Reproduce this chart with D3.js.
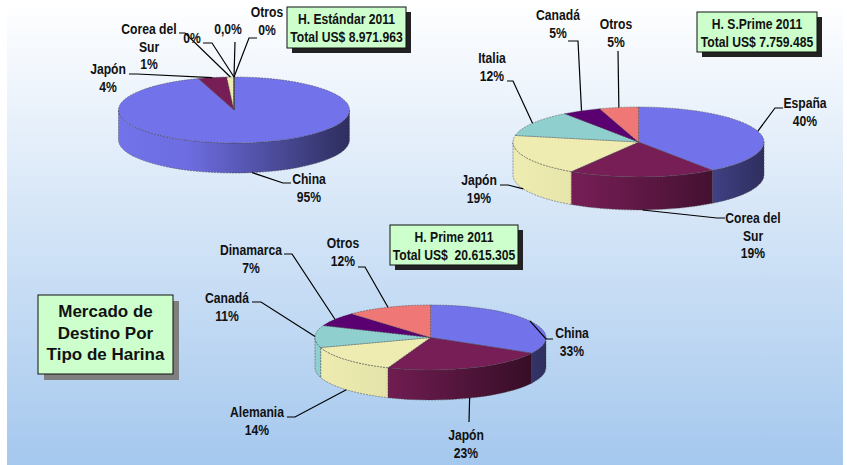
<!DOCTYPE html>
<html lang="es">
    <head>
        <meta charset="utf-8">
        <title>Mercado de Destino Por Tipo de Harina</title>
        <style>
            body{
                margin: 0;
                background-color: white;
            }
            svg{
                display: block;
            }
            text{
                font-family: "Liberation Sans", sans-serif;
                font-weight: bold;
                fill: #111;
                white-space: pre;
            }
        </style>
        <script src="https://d3js.org/d3.v7.min.js"></script>
    </head>
    <body></body>
    <script>

        // data
        let estandarNames = ["China", "Japón", "Corea del\nSur", "", "", "Otros"]
        let estandarValues = [95, 4, 1, 0, 0, 0]
        let estandarLabels = ["95%", "4%", "1%", "0%", "0,0%", "0%"]
        let estandarBox = ["H. Estándar 2011", "Total US$ 8.971.963"]

        let sPrimeNames = ["España", "Corea del\nSur", "Japón", "Italia", "Canadá", "Otros"]
        let sPrimeValues = [40, 19, 19, 12, 5, 5]
        let sPrimeLabels = ["40%", "19%", "19%", "12%", "5%", "5%"]
        let sPrimeBox = ["H. S.Prime 2011", "Total US$ 7.759.485"]

        let primeNames = ["China", "Japón", "Alemania", "Canadá", "Dinamarca", "Otros"]
        let primeValues = [33, 23, 14, 11, 7, 12]
        let primeLabels = ["33%", "23%", "14%", "11%", "7%", "12%"]
        let primeBox = ["H. Prime 2011", "Total US$  20.615.305"]

        let titleLines = ["Mercado de", "Destino Por", "Tipo de Harina"]

        let colors = ["#7272ea", "#771e56", "#eeecb0", "#8fcfce", "#5a0070", "#ef7876"]

        // layout: center, radii, wall depth, callout box
        let estandarLayout = {cx: 234, cy: 110, rx: 115.5, ry: 33, depth: 30, box: [287, 7, 119, 41]}
        let sPrimeLayout = {cx: 638.5, cy: 142, rx: 125.5, ry: 35, depth: 33, box: [697, 12, 120, 40]}
        let primeLayout = {cx: 430.5, cy: 337.5, rx: 115.5, ry: 32.5, depth: 30, box: [390, 225, 128, 40]}

        // label layout per slice: text center x, first line y, leader start points (the slice end is computed)
        let estandarSpots = [
            {x: 309, y: 184, leader: [[291, 183], [283, 183]]},
            {x: 108, y: 74, leader: [[129, 74], [137, 74]]},
            {x: 149, y: 34, leader: [[179, 33], [185, 33]]},
            {x: 192, y: 43, leader: [[203, 43], [212, 43]]},
            {x: 228, y: 34, leader: [[235, 42]]},
            {x: 267, y: 17, leader: [[257, 38], [249, 38]]}
        ]
        let sPrimeSpots = [
            {x: 805, y: 108, leader: [[783, 108], [775, 108]]},
            {x: 753, y: 223, leader: [[725, 218], [717, 218]]},
            {x: 479, y: 185, leader: [[500, 185], [508, 185]]},
            {x: 492, y: 63, leader: [[507, 81], [513, 81]]},
            {x: 558, y: 20, leader: [[568, 41], [578, 41]]},
            {x: 616, y: 29, leader: [[618, 51]]}
        ]
        let primeSpots = [
            {x: 572, y: 338, leader: [[553, 339], [546, 339]]},
            {x: 466, y: 440, leader: [[469, 422]]},
            {x: 257, y: 417, leader: [[287, 417], [295, 417]]},
            {x: 227, y: 303, leader: [[252, 302], [261, 302]]},
            {x: 251, y: 255, leader: [[284, 254], [292, 254]]},
            {x: 343, y: 248, leader: [[358, 267], [365, 267]]}
        ]

        let width = 847
        let height = 465
        let lineHeight = 17.6
        let squeeze = 0.81 // no narrow face installed, so the regular one gets squeezed

        let svg = d3.select("body")
            .append("svg")
            .attr("width", width)
            .attr("height", height)

        let defs = svg.append("defs")

        let bg = defs.append("linearGradient")
            .attr("id", "bg")
            .attr("x1", 0).attr("y1", 0)
            .attr("x2", 0).attr("y2", 1)
        bg.append("stop").attr("offset", 0).attr("stop-color", "#ffffff")
        bg.append("stop").attr("offset", 1).attr("stop-color", "#a5c8ee")

        svg.append("rect")
            .attr("x", 7)
            .attr("y", 0)
            .attr("width", 836)
            .attr("height", height)
            .attr("fill", "url(#bg)")

        // angle measured clockwise from 12 o'clock, projected on the tilted ellipse
        let rim = (p, a, drop = 0) => [
            p.cx + p.rx * Math.sin(a),
            p.cy - p.ry * Math.cos(a) + drop
        ]

        let narrowText = (parent, lines, x, y, gap) => {
            parent.selectAll(null)
                .data(lines)
                .enter()
                .append("text")
                .attr("transform", (d, k) => `translate(${x},${y + k * gap}) scale(${squeeze},1)`)
                .attr("text-anchor", "middle")
                .attr("font-size", 15)
                .text((d) => d)
        }

        let drawPie = (id, layout, names, values, labels, spots) => {
            let slices = d3.pie().sort(null).value((d) => d)(values)
            let arc = d3.arc().innerRadius(0).outerRadius(layout.rx)
            let g = svg.append("g").attr("id", id)

            // walls: only the front half of the rim is visible
            slices.forEach((s, i) => {
                let a0 = Math.max(s.startAngle, Math.PI / 2)
                let a1 = Math.min(s.endAngle, Math.PI * 3 / 2)
                if (a1 <= a0) return

                let shade = defs.append("linearGradient")
                    .attr("id", `${id}-wall-${i}`)
                    .attr("gradientUnits", "userSpaceOnUse")
                    .attr("x1", layout.cx - layout.rx)
                    .attr("x2", layout.cx + layout.rx)
                    .attr("y1", 0)
                    .attr("y2", 0)
                let dark = d3.interpolateRgb(colors[i], "#000")
                shade.append("stop").attr("offset", 0).attr("stop-color", colors[i])
                shade.append("stop").attr("offset", 0.3).attr("stop-color", dark(0.04))
                shade.append("stop").attr("offset", 1).attr("stop-color", dark(0.6))

                let [x0, y0] = rim(layout, a0)
                let [x1, y1] = rim(layout, a1)
                let r = `${layout.rx} ${layout.ry}`
                g.append("path")
                    .attr("d", `M${x0},${y0} A${r} 0 0 1 ${x1},${y1} L${x1},${y1 + layout.depth} A${r} 0 0 0 ${x0},${y0 + layout.depth} Z`)
                    .attr("fill", `url(#${id}-wall-${i})`)
                    .attr("stroke", "#444")
                    .attr("stroke-width", 0.5)
                    .attr("stroke-dasharray", "2,1")
            })

            // top face: a circular d3.arc squashed into the ellipse
            g.append("g")
                .attr("transform", `translate(${layout.cx},${layout.cy}) scale(1,${layout.ry / layout.rx})`)
                .selectAll("path")
                .data(slices)
                .enter()
                .append("path")
                .attr("d", arc)
                .attr("fill", (d, i) => colors[i])
                .attr("stroke", "#444")
                .attr("stroke-width", 0.5)
                .attr("stroke-dasharray", "2,1")
                .attr("vector-effect", "non-scaling-stroke")

            // leaders end on the slice middle, on the wall foot when it faces front
            let line = d3.line()
            slices.forEach((s, i) => {
                let mid = (s.startAngle + s.endAngle) / 2
                let front = Math.cos(mid) < 0
                let end = rim(layout, mid, front ? layout.depth : 0)
                g.append("path")
                    .attr("d", line([...spots[i].leader, end]))
                    .attr("fill", "none")
                    .attr("stroke", "#000")
                    .attr("stroke-width", 1.2)
            })

            slices.forEach((s, i) => {
                let lines = names[i] ? names[i].split("\n") : []
                lines.push(labels[i])
                narrowText(g, lines, spots[i].x, spots[i].y, lineHeight)
            })
        }

        let drawFrame = (box, shadow, shadowColor) => {
            let [x, y, w, h] = box
            svg.append("rect")
                .attr("x", x + shadow)
                .attr("y", y + shadow)
                .attr("width", w)
                .attr("height", h)
                .attr("fill", shadowColor)
            svg.append("rect")
                .attr("x", x)
                .attr("y", y)
                .attr("width", w)
                .attr("height", h)
                .attr("fill", "#ccffcc")
                .attr("stroke", "#111")
                .attr("stroke-width", 1)
        }

        drawPie("estandar", estandarLayout, estandarNames, estandarValues, estandarLabels, estandarSpots)
        drawPie("sprime", sPrimeLayout, sPrimeNames, sPrimeValues, sPrimeLabels, sPrimeSpots)
        drawPie("prime", primeLayout, primeNames, primeValues, primeLabels, primeSpots)

        let callouts = [[estandarLayout.box, estandarBox], [sPrimeLayout.box, sPrimeBox], [primeLayout.box, primeBox]]
        callouts.forEach(([box, lines]) => {
            drawFrame(box, 5, "#222")
            narrowText(svg, lines, box[0] + box[2] / 2, box[1] + 17, 17.5)
        })

        let titleBox = [38, 295, 135, 79]
        drawFrame(titleBox, 6, "#7f7f7f")
        svg.selectAll(null)
            .data(titleLines)
            .enter()
            .append("text")
            .attr("x", titleBox[0] + titleBox[2] / 2)
            .attr("y", (d, i) => titleBox[1] + 22 + i * 21.5)
            .attr("text-anchor", "middle")
            .attr("font-size", 17)
            .text((d) => d)

    </script>
</html>
